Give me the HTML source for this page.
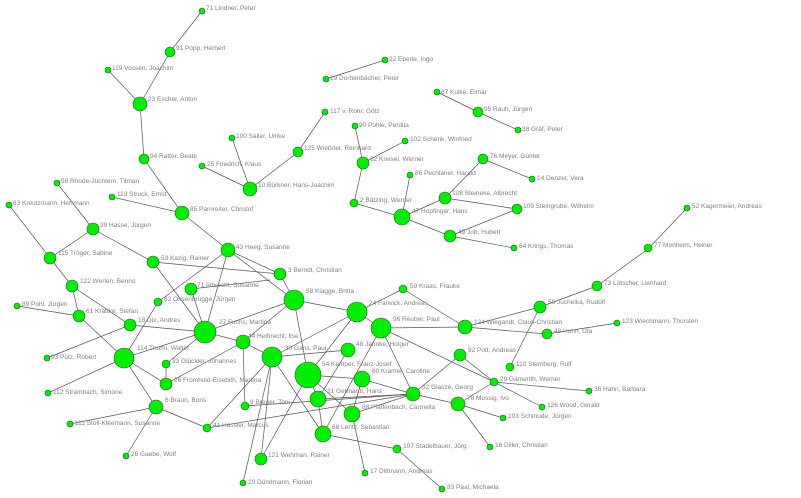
<!DOCTYPE html>
<html><head><meta charset="utf-8"><style>
html,body{margin:0;padding:0;background:#fff;}
svg{display:block;}
text{font-family:"Liberation Sans",sans-serif;font-size:6.5px;fill:#808080;}
line{stroke:#555;stroke-width:0.7;}
circle{fill:#00ee00;stroke:#2a5a2a;stroke-width:0.6;}
</style></head><body>
<svg width="801" height="498" viewBox="0 0 801 498" xmlns="http://www.w3.org/2000/svg">
<g>
<line x1="170" y1="52" x2="202" y2="11"/>
<line x1="170" y1="52" x2="140" y2="104"/>
<line x1="140" y1="104" x2="108" y2="70"/>
<line x1="140" y1="104" x2="144" y2="159"/>
<line x1="144" y1="159" x2="182" y2="213"/>
<line x1="112" y1="197" x2="182" y2="213"/>
<line x1="182" y1="213" x2="228" y2="250"/>
<line x1="232" y1="138" x2="250" y2="189"/>
<line x1="202" y1="166" x2="250" y2="189"/>
<line x1="250" y1="189" x2="298" y2="152"/>
<line x1="298" y1="152" x2="325" y2="112"/>
<line x1="385" y1="60" x2="326" y2="79"/>
<line x1="437" y1="92" x2="478" y2="112"/>
<line x1="518" y1="130" x2="478" y2="112"/>
<line x1="355" y1="126" x2="363" y2="163"/>
<line x1="405" y1="141" x2="363" y2="163"/>
<line x1="363" y1="163" x2="354" y2="203"/>
<line x1="402" y1="217" x2="354" y2="203"/>
<line x1="402" y1="217" x2="410" y2="175"/>
<line x1="402" y1="217" x2="445" y2="198"/>
<line x1="402" y1="217" x2="450" y2="236"/>
<line x1="445" y1="198" x2="483" y2="159"/>
<line x1="483" y1="159" x2="532" y2="179"/>
<line x1="517" y1="209" x2="445" y2="198"/>
<line x1="517" y1="209" x2="450" y2="236"/>
<line x1="514" y1="248" x2="450" y2="236"/>
<line x1="687" y1="208" x2="648" y2="249"/>
<line x1="597" y1="286" x2="648" y2="249"/>
<line x1="540" y1="307" x2="597" y2="286"/>
<line x1="93" y1="229" x2="57" y2="183"/>
<line x1="9" y1="205" x2="50" y2="258"/>
<line x1="93" y1="229" x2="50" y2="258"/>
<line x1="93" y1="229" x2="153" y2="262"/>
<line x1="50" y1="258" x2="72" y2="286"/>
<line x1="72" y1="286" x2="79" y2="316"/>
<line x1="17" y1="306" x2="79" y2="316"/>
<line x1="130" y1="325" x2="72" y2="286"/>
<line x1="124" y1="358" x2="79" y2="316"/>
<line x1="47" y1="358" x2="130" y2="325"/>
<line x1="48" y1="393" x2="124" y2="358"/>
<line x1="124" y1="358" x2="158" y2="302"/>
<line x1="124" y1="358" x2="205" y2="332"/>
<line x1="124" y1="358" x2="166" y2="384"/>
<line x1="124" y1="358" x2="156" y2="407"/>
<line x1="205" y1="332" x2="130" y2="325"/>
<line x1="158" y1="302" x2="228" y2="250"/>
<line x1="205" y1="332" x2="153" y2="262"/>
<line x1="205" y1="332" x2="228" y2="250"/>
<line x1="205" y1="332" x2="191" y2="289"/>
<line x1="205" y1="332" x2="243" y2="342"/>
<line x1="205" y1="332" x2="294" y2="300"/>
<line x1="166" y1="364" x2="205" y2="332"/>
<line x1="166" y1="384" x2="166" y2="364"/>
<line x1="166" y1="384" x2="243" y2="342"/>
<line x1="280" y1="274" x2="153" y2="262"/>
<line x1="280" y1="274" x2="228" y2="250"/>
<line x1="280" y1="274" x2="294" y2="300"/>
<line x1="228" y1="250" x2="294" y2="300"/>
<line x1="270" y1="280" x2="191" y2="289"/>
<line x1="70" y1="424" x2="156" y2="407"/>
<line x1="126" y1="456" x2="156" y2="407"/>
<line x1="207" y1="428" x2="156" y2="407"/>
<line x1="207" y1="428" x2="272" y2="357"/>
<line x1="207" y1="428" x2="413" y2="394"/>
<line x1="243" y1="342" x2="245" y2="406"/>
<line x1="272" y1="357" x2="243" y2="342"/>
<line x1="294" y1="300" x2="243" y2="342"/>
<line x1="294" y1="300" x2="357" y2="312"/>
<line x1="308" y1="375" x2="294" y2="300"/>
<line x1="272" y1="357" x2="348" y2="350"/>
<line x1="272" y1="357" x2="357" y2="312"/>
<line x1="272" y1="357" x2="261" y2="459"/>
<line x1="272" y1="357" x2="323" y2="434"/>
<line x1="272" y1="357" x2="243" y2="483"/>
<line x1="308" y1="375" x2="357" y2="312"/>
<line x1="308" y1="375" x2="362" y2="379"/>
<line x1="308" y1="375" x2="318" y2="399"/>
<line x1="308" y1="375" x2="352" y2="414"/>
<line x1="308" y1="375" x2="261" y2="459"/>
<line x1="318" y1="399" x2="413" y2="394"/>
<line x1="318" y1="399" x2="323" y2="434"/>
<line x1="318" y1="399" x2="348" y2="350"/>
<line x1="323" y1="434" x2="381" y2="328"/>
<line x1="245" y1="406" x2="413" y2="394"/>
<line x1="362" y1="379" x2="413" y2="394"/>
<line x1="362" y1="379" x2="352" y2="414"/>
<line x1="352" y1="414" x2="413" y2="394"/>
<line x1="352" y1="414" x2="365" y2="473"/>
<line x1="397" y1="449" x2="323" y2="434"/>
<line x1="397" y1="449" x2="442" y2="489"/>
<line x1="357" y1="312" x2="381" y2="328"/>
<line x1="357" y1="312" x2="403" y2="289"/>
<line x1="381" y1="328" x2="413" y2="394"/>
<line x1="465" y1="327" x2="403" y2="289"/>
<line x1="465" y1="327" x2="381" y2="328"/>
<line x1="465" y1="327" x2="547" y2="334"/>
<line x1="540" y1="307" x2="465" y2="327"/>
<line x1="494" y1="382" x2="381" y2="328"/>
<line x1="494" y1="382" x2="460" y2="355"/>
<line x1="494" y1="382" x2="589" y2="391"/>
<line x1="494" y1="382" x2="542" y2="407"/>
<line x1="494" y1="382" x2="458" y2="404"/>
<line x1="510" y1="367" x2="540" y2="307"/>
<line x1="413" y1="394" x2="460" y2="355"/>
<line x1="413" y1="394" x2="458" y2="404"/>
<line x1="458" y1="404" x2="490" y2="447"/>
<line x1="503" y1="418" x2="458" y2="404"/>
<line x1="547" y1="334" x2="617" y2="323"/>
</g>
<g>
<circle cx="202" cy="11" r="3"/><text x="206" y="10">71 Lindner, Peter</text>
<circle cx="170" cy="52" r="5"/><text x="176" y="50">91 Popp, Herbert</text>
<circle cx="108" cy="70" r="3"/><text x="112" y="70">119 Vossen, Joachim</text>
<circle cx="140" cy="104" r="7"/><text x="148" y="101">23 Escher, Anton</text>
<circle cx="144" cy="159" r="5"/><text x="150" y="158">94 Ratter, Beate</text>
<circle cx="57" cy="183" r="3"/><text x="61" y="183">98 Rhode-Jüchtern, Tilman</text>
<circle cx="112" cy="197" r="3"/><text x="117" y="196">113 Struck, Ernst</text>
<circle cx="182" cy="213" r="7"/><text x="190" y="211">85 Parnreiter, Christof</text>
<circle cx="9" cy="205" r="3"/><text x="13" y="205">63 Kreutzmann, Herrmann</text>
<circle cx="93" cy="229" r="6"/><text x="100" y="227">39 Hasse, Jürgen</text>
<circle cx="232" cy="138" r="3"/><text x="236" y="138">100 Saller, Ulrike</text>
<circle cx="202" cy="166" r="3"/><text x="207" y="166">25 Friedrich, Klaus</text>
<circle cx="250" cy="189" r="7"/><text x="258" y="187">10 Bürkner, Hans-Joachim</text>
<circle cx="228" cy="250" r="7"/><text x="236" y="249">43 Heeg, Susanne</text>
<circle cx="385" cy="60" r="3"/><text x="389" y="61">22 Eberle, Ingo</text>
<circle cx="326" cy="79" r="3"/><text x="330" y="80">19 Dornenbächer, Peter</text>
<circle cx="437" cy="92" r="3"/><text x="441" y="94">67 Kulke, Elmar</text>
<circle cx="478" cy="112" r="5"/><text x="484" y="111">95 Rauh, Jürgen</text>
<circle cx="518" cy="130" r="3"/><text x="522" y="131">38 Gräf, Peter</text>
<circle cx="325" cy="112" r="3"/><text x="330" y="113">117 v. Rohr, Götz</text>
<circle cx="355" cy="126" r="3"/><text x="359" y="127">90 Pohle, Perdita</text>
<circle cx="405" cy="141" r="3"/><text x="410" y="141">102 Schenk, Winfried</text>
<circle cx="298" cy="152" r="5"/><text x="304" y="150">125 Wießner, Reinhard</text>
<circle cx="363" cy="163" r="6"/><text x="370" y="161">62 Kreisel, Werner</text>
<circle cx="483" cy="159" r="5"/><text x="490" y="158">76 Meyer, Günter</text>
<circle cx="532" cy="179" r="3"/><text x="537" y="180">14 Denzer, Vera</text>
<circle cx="410" cy="175" r="3"/><text x="415" y="175">86 Pechlaner, Harald</text>
<circle cx="445" cy="198" r="6"/><text x="452" y="195">108 Steineke, Albrecht</text>
<circle cx="354" cy="203" r="4"/><text x="360" y="202">2 Bätzing, Werner</text>
<circle cx="402" cy="217" r="8"/><text x="412" y="213">47 Hopfinger, Hans</text>
<circle cx="517" cy="209" r="5"/><text x="523" y="208">109 Steingrube, Wilhelm</text>
<circle cx="450" cy="236" r="6"/><text x="458" y="234">49 Job, Hubert</text>
<circle cx="514" cy="248" r="3"/><text x="519" y="248">64 Krings, Thomas</text>
<circle cx="687" cy="208" r="3"/><text x="692" y="208">52 Kagermeier, Andreas</text>
<circle cx="648" cy="248" r="4"/><text x="654" y="247">77 Monheim, Heiner</text>
<circle cx="597" cy="286" r="5"/><text x="604" y="285">73 Lötscher, Lienhard</text>
<circle cx="540" cy="307" r="6"/><text x="548" y="304">50 Juchelka, Rudolf</text>
<circle cx="547" cy="334" r="5"/><text x="554" y="333">46 Hohn, Uta</text>
<circle cx="617" cy="323" r="3"/><text x="622" y="323">123 Wiechmann, Thorsten</text>
<circle cx="589" cy="391" r="3"/><text x="594" y="391">36 Hahn, Barbara</text>
<circle cx="542" cy="407" r="3"/><text x="547" y="407">126 Wood, Gerald</text>
<circle cx="50" cy="258" r="6"/><text x="58" y="255">115 Tröger, Sabine</text>
<circle cx="153" cy="262" r="6"/><text x="161" y="260">53 Kazig, Rainer</text>
<circle cx="72" cy="286" r="6"/><text x="80" y="283">122 Werlen, Benno</text>
<circle cx="191" cy="289" r="6"/><text x="197" y="287">71 Albrecht, Susanne</text>
<circle cx="158" cy="302" r="4"/><text x="164" y="301">82 Ossenbrügge, Jürgen</text>
<circle cx="17" cy="306" r="3"/><text x="22" y="306">89 Pohl, Jürgen</text>
<circle cx="79" cy="316" r="6"/><text x="86" y="313">61 Krättke, Stefan</text>
<circle cx="130" cy="325" r="6"/><text x="138" y="322">18 Dix, Andres</text>
<circle cx="205" cy="332" r="11"/><text x="219" y="324">27 Fuchs, Martina</text>
<circle cx="243" cy="342" r="7"/><text x="248" y="338">44 Helbrecht, Ilse</text>
<circle cx="124" cy="358" r="10"/><text x="137" y="350">114 Thomi, Walter</text>
<circle cx="47" cy="358" r="3"/><text x="51" y="359">93 Pütz, Robert</text>
<circle cx="166" cy="364" r="4"/><text x="172" y="363">33 Glückler, Johannes</text>
<circle cx="166" cy="384" r="6"/><text x="174" y="382">26 Fromhold-Eisebith, Martina</text>
<circle cx="48" cy="393" r="3"/><text x="53" y="394">112 Strambach, Simone</text>
<circle cx="156" cy="407" r="7"/><text x="165" y="402">6 Braun, Boris</text>
<circle cx="70" cy="424" r="3"/><text x="75" y="425">111 Stoll-Kleemann, Susanne</text>
<circle cx="207" cy="428" r="4"/><text x="213" y="427">41 Hassler, Marcus</text>
<circle cx="245" cy="406" r="4"/><text x="250" y="404">9 Breuer, Toni</text>
<circle cx="126" cy="456" r="3"/><text x="131" y="456">28 Gaebe, Wolf</text>
<circle cx="261" cy="459" r="6"/><text x="268" y="457">121 Wehrhan, Rainer</text>
<circle cx="243" cy="483" r="3"/><text x="248" y="484">20 Dündmann, Florian</text>
<circle cx="280" cy="274" r="6"/><text x="288" y="272">3 Berndt, Christian</text>
<circle cx="294" cy="300" r="10"/><text x="306" y="293">58 Klagge, Britta</text>
<circle cx="357" cy="312" r="10"/><text x="369" y="305">24 Farwick, Andreas</text>
<circle cx="403" cy="289" r="4"/><text x="410" y="288">59 Kraas, Frauke</text>
<circle cx="381" cy="328" r="10"/><text x="393" y="321">96 Reuber, Paul</text>
<circle cx="465" cy="327" r="7"/><text x="474" y="324">124 Wiegandt, Claus-Christian</text>
<circle cx="348" cy="350" r="7"/><text x="356" y="346">48 Jahnke, Holger</text>
<circle cx="272" cy="357" r="10"/><text x="285" y="350">30 Gans, Paul</text>
<circle cx="308" cy="375" r="13"/><text x="322" y="366">54 Kemper, Franz-Josef</text>
<circle cx="460" cy="355" r="6"/><text x="468" y="352">92 Pott, Andreas</text>
<circle cx="362" cy="379" r="8"/><text x="372" y="373">60 Kramer, Caroline</text>
<circle cx="318" cy="399" r="8"/><text x="327" y="393">31 Gebhardt, Hans</text>
<circle cx="413" cy="394" r="7"/><text x="422" y="389">32 Glasze, Georg</text>
<circle cx="494" cy="382" r="4"/><text x="500" y="381">29 Gamerith, Werner</text>
<circle cx="510" cy="367" r="4"/><text x="516" y="366">110 Stemberg, Rolf</text>
<circle cx="458" cy="404" r="7"/><text x="467" y="400">78 Mossig, Ivo</text>
<circle cx="352" cy="414" r="8"/><text x="362" y="409">88 Pfaffenbach, Carmella</text>
<circle cx="503" cy="418" r="3"/><text x="508" y="418">103 Schmude, Jürgen</text>
<circle cx="323" cy="434" r="8"/><text x="332" y="429">68 Lentz, Sebastian</text>
<circle cx="397" cy="449" r="4"/><text x="403" y="448">107 Stadelbauer, Jörg</text>
<circle cx="490" cy="447" r="3"/><text x="495" y="447">16 Diller, Christian</text>
<circle cx="365" cy="473" r="3"/><text x="370" y="473">17 Dittmann, Andreas</text>
<circle cx="442" cy="489" r="3"/><text x="447" y="489">83 Paal, Michaela</text>
</g>
</svg>
</body></html>
